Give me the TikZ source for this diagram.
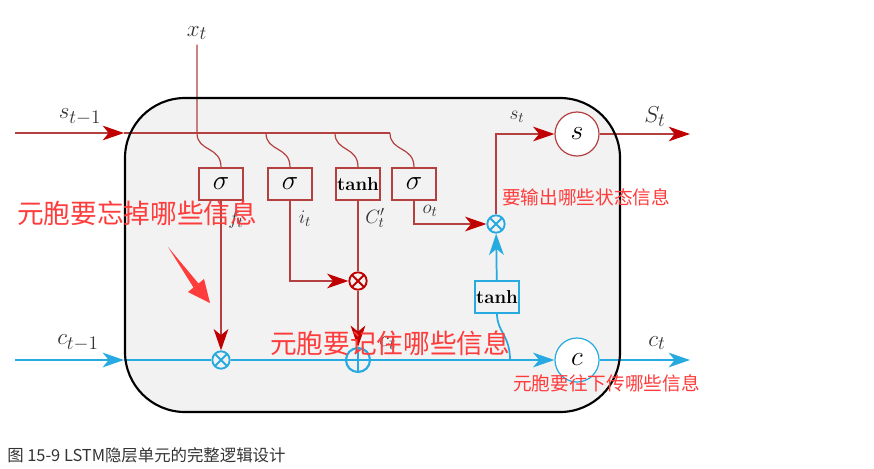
\documentclass[tikz,border=0pt]{standalone}
\usepackage{fontspec}
\newfontfamily\cjk{Noto Sans CJK SC}
\usetikzlibrary{arrows.meta}
\definecolor{gatered}{RGB}{180,64,64}
\definecolor{headred}{RGB}{192,0,0}
\definecolor{cellblue}{RGB}{38,170,224}
\definecolor{notered}{RGB}{255,60,60}
\definecolor{cellgray}{RGB}{242,242,242}
\begin{document}
\begin{tikzpicture}[x=0.75pt, y=-0.75pt,
                gate/.style={draw=#1, line width=1.2pt, fill=cellgray, minimum width=33pt, minimum height=24pt, inner sep=0pt, font=\fontsize{22}{22}\selectfont},
                mult/.style={circle, draw=#1, fill=cellgray, line width=1.4pt, minimum size=13pt, inner sep=0pt,
                  path picture={\draw[#1, line width=1.4pt] (path picture bounding box.south west) -- (path picture bounding box.north east)
                    (path picture bounding box.north west) -- (path picture bounding box.south east);}},
                add/.style={circle, draw=#1, fill=cellgray, line width=1.6pt, minimum size=18pt, inner sep=0pt,
                  path picture={\draw[#1, line width=1.6pt] (path picture bounding box.north) -- (path picture bounding box.south)
                    (path picture bounding box.west) -- (path picture bounding box.east);}},
                cell/.style={circle, draw=#1, fill=white, line width=0.9pt, minimum size=33pt, inner sep=0pt, font=\fontsize{20}{20}\selectfont},
                rline/.style={gatered, line width=0.9pt},
                bline/.style={cellblue, line width=1.3pt},
                rarrow/.style={rline, -{Stealth[color=headred, length=16pt, width=11pt, inset=4.5pt]}},
                barrow/.style={bline, -{Stealth[length=16pt, width=11pt, inset=4.5pt]}},
                lab/.style={font=\fontsize{19}{19}\selectfont, text=black!80},
                sublab/.style={font=\fontsize{15}{15}\selectfont, text=black!80},
                note/.style={text=notered, anchor=west, inner sep=0pt, font=\fontsize{20}{20}\selectfont\cjk},
                smallnote/.style={note, font=\fontsize{14}{14}\selectfont\cjk}]

                \useasboundingbox (0,0) rectangle (874,468);
                \fill[cellgray, rounded corners=45pt] (125,98) rectangle (620,412);

                % gates
                \node[gate=gatered] (fgate) at (221,184) {$\sigma$};
                \node[gate=gatered] (igate) at (290,184) {$\sigma$};
                \node[gate=gatered, font=\fontsize{14}{14}\bfseries] (cgate) at (358,184) {tanh};
                \node[gate=gatered] (ogate) at (414,184) {$\sigma$};
                \node[gate=cellblue, font=\fontsize{14}{14}\bfseries] (ctanh) at (497,297) {tanh};

                \node[mult=headred] (imult) at (358,281) {};
                \node[mult=cellblue] (fmult) at (221,360) {};
                \node[mult=cellblue] (omult) at (496,224) {};
                \node[add=cellblue] (cadd) at (358,360) {};
                \node[cell=gatered] (scell) at (577,134) {$s$};
                \node[cell=cellblue] (ccell) at (577,360) {$c$};

                \coordinate (sin) at (15,133);
                \coordinate (sedge) at (124,133);
                \coordinate (sout) at (690,134);
                \coordinate (cin) at (15,360);
                \coordinate (cedge) at (124,360);
                \coordinate (cout) at (690,360);
                \coordinate (ctap) at (510,360);
                \coordinate (j1) at (197,133);
                \coordinate (j2) at (266,133);
                \coordinate (j3) at (335,133);
                \coordinate (j4) at (390,133);

                % labels
                \node[lab] (xt) at (197,33) {$x_t$};
                \node[lab] (stlast) at (80,117) {$s_{t-1}$};
                \node[lab] (ctlast) at (78,343) {$c_{t-1}$};
                \node[sublab] (ft) at (236,220) {$f_t$};
                \node[sublab] (it) at (305,219) {$i_t$};
                \node[sublab] (cbar) at (375,218) {$C'_t$};
                \node[sublab] (ot) at (430,211) {$o_t$};
                \node[sublab] (st) at (517,117) {$s_t$};
                \node[lab] (stout) at (655,117) {$S_t$};
                \node[lab] (ct) at (388,343) {$c_t$};
                \node[lab] (ctout) at (657,343) {$c_t$};

                % s line and inputs
                \draw[rarrow] (sin) -- (sedge);
                \draw[rline] (sedge) -- (j4);
                \draw[rline] (xt) -- (j1) .. controls (197,152) and (221,146) .. (fgate.north);
                \draw[rline] (j2) .. controls (266,152) and (290,146) .. (igate.north);
                \draw[rline] (j3) .. controls (335,152) and (358,146) .. (cgate.north);
                \draw[rline] (j4) .. controls (390,152) and (414,146) .. (ogate.north);

                \draw[rarrow] (fgate) -- (fmult);
                \draw[rarrow] (igate) |- (imult);
                \draw[rline] (cgate) -- (imult);
                \draw[rarrow] (imult) -- (cadd);
                \draw[rarrow] (ogate) |- (omult);
                \draw[rarrow] (omult) |- (scell);
                \draw[rarrow] (scell) -- (sout);

                % c line
                \draw[barrow] (cin) -- (cedge);
                \draw[bline] (cedge) -- (fmult);
                \draw[bline] (fmult) -- (cadd);
                \draw[barrow] (cadd) -- (ccell);
                \draw[barrow] (ccell) -- (cout);
                \draw[bline] (ctap) .. controls (510,335) and (497,332) .. (ctanh.south);
                \draw[barrow] (ctanh) -- (omult);

                \draw[line width=1.6pt, rounded corners=45pt] (125,98) rectangle (620,412);

                % notes
                \fill[notered] (168,247) -- (198.5,283.5) -- (204,279) -- (210,303) -- (188,292) -- (193.5,287.5) -- cycle;
                \node[note] (forget) at (17,213) {元胞要忘掉哪些信息};
                \node[note] (remember) at (270,343) {元胞要记住哪些信息};
                \node[smallnote] (output) at (502,197) {要输出哪些状态信息};
                \node[smallnote] (pass) at (513,383) {元胞要往下传哪些信息};

                \node[anchor=west, inner sep=0pt, text=black!80, font=\fontsize{12.3}{12.3}\cjk] (caption) at (7,455) {图 15-9 LSTM隐层单元的完整逻辑设计};
            \end{tikzpicture}
\end{document}
